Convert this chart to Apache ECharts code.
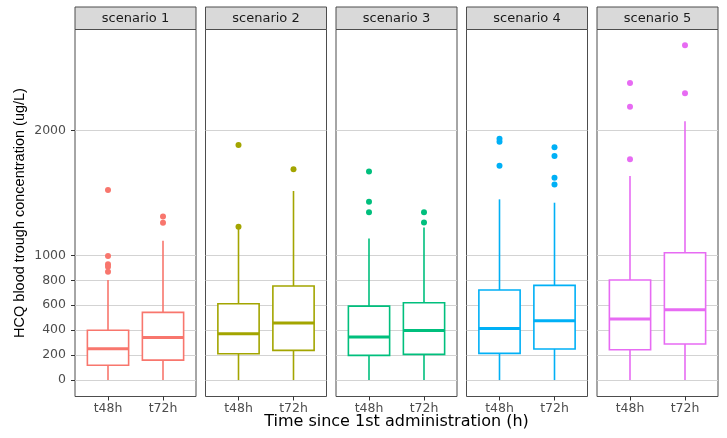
<!DOCTYPE html>
<html><head><meta charset="utf-8">
<script src="https://cdn.jsdelivr.net/npm/echarts@6/dist/echarts.min.js"></script>
<style>html,body{margin:0;padding:0;background:#fff}#c{width:727px;height:438px}</style>
</head><body><div id="c"></div>
<script>
const scenarios = ['scenario 1', 'scenario 2', 'scenario 3', 'scenario 4', 'scenario 5'];
const timeLabels = ['t48h', 't72h'];
const colors = ['#F8766D', '#A3A500', '#00BF7D', '#00B0F6', '#E76BF3'];
const yTicks = [0, 200, 400, 600, 800, 1000, 2000];
// [lower whisker, Q1, median, Q3, upper whisker]
const box48 = [
  [0, 118, 251, 399, 802],
  [0, 211, 371, 612, 1215],
  [0, 198, 345, 593, 1136],
  [0, 214, 414, 722, 1449],
  [0, 243, 489, 802, 1636]
];
const box72 = [
  [0, 160, 342, 543, 1117],
  [0, 238, 457, 754, 1516],
  [0, 206, 398, 620, 1224],
  [0, 249, 476, 759, 1422],
  [0, 289, 564, 1021, 2075]
];
const out48 = [
  [1524, 994, 928, 909, 868],
  [1885, 1230],
  [1673, 1430, 1345],
  [1935, 1911, 1719],
  [2382, 2192, 1770]
];
const out72 = [
  [1312, 1262],
  [1690],
  [1345, 1264],
  [1866, 1796, 1622, 1569],
  [2684, 2299]
];

const chart = echarts.init(document.getElementById('c'), null, {renderer: 'canvas'});
const panelLeft = 75, panelStep = 130.5, panelW = 121, panelTop = 29.5, panelH = 367;
const stripTop = 7;
const yMin = -132, yMax = 2811;
const tickFont = '"DejaVu Sans"';

const grids = [], xAxes = [], yAxes = [], series = [], graphics = [];
scenarios.forEach(function (name, i) {
  const L = panelLeft + i * panelStep;
  grids.push({left: L, top: panelTop, width: panelW, height: panelH, show: true,
    borderColor: '#4D4D4D', borderWidth: 1, backgroundColor: '#fff', outerBoundsMode: 'none'});
  xAxes.push({gridIndex: i, type: 'value', min: 0.4, max: 2.6, position: 'bottom',
    axisLine: {show: false, onZero: false},
    splitLine: {show: false},
    axisTick: {show: true, customValues: [1, 2], length: 4, lineStyle: {color: '#333'}},
    axisLabel: {show: true, customValues: [1, 2], margin: 6, color: '#4D4D4D', fontSize: 12.5, fontFamily: tickFont,
      formatter: function (v) { return timeLabels[Math.round(v) - 1]; }}
  });
  yAxes.push({gridIndex: i, type: 'value', min: yMin, max: yMax, position: 'left',
    axisLine: {show: false, onZero: false},
    splitLine: {show: true, lineStyle: {color: '#D3D3D3', width: 1}},
    axisTick: {show: i === 0, customValues: yTicks, length: 4, lineStyle: {color: '#333'}},
    axisLabel: {show: i === 0, customValues: yTicks, margin: 9, color: '#4D4D4D', fontSize: 12.5, fontFamily: tickFont,
      formatter: function (v) { return String(Math.round(v)); }}
  });
  const col = colors[i];
  series.push({
    type: 'custom', xAxisIndex: i, yAxisIndex: i,
    encode: {x: 0, y: [1, 2, 3, 4, 5]},
    data: [[1].concat(box48[i]), [2].concat(box72[i])],
    renderItem: function (params, api) {
      const x = api.value(0);
      const lo = api.coord([x, api.value(1)]);
      const q1 = api.coord([x, api.value(2)]);
      const md = api.coord([x, api.value(3)]);
      const q3 = api.coord([x, api.value(4)]);
      const hi = api.coord([x, api.value(5)]);
      const hw = api.size([0.75, 0])[0] / 2;
      const cx = lo[0];
      const st = {stroke: col, lineWidth: 1.6, fill: null, lineCap: 'butt'};
      return {type: 'group', children: [
        {type: 'line', shape: {x1: cx, y1: lo[1], x2: cx, y2: q1[1]}, style: st},
        {type: 'line', shape: {x1: cx, y1: q3[1], x2: cx, y2: hi[1]}, style: st},
        {type: 'rect', shape: {x: cx - hw, y: q3[1], width: 2 * hw, height: q1[1] - q3[1]}, style: {stroke: col, lineWidth: 1.6, fill: '#fff'}},
        {type: 'line', shape: {x1: cx - hw, y1: md[1], x2: cx + hw, y2: md[1]}, style: {stroke: col, lineWidth: 3}}
      ]};
    },
    z: 3
  });
  const pts = [];
  out48[i].forEach(function (v) { pts.push([1, v]); });
  out72[i].forEach(function (v) { pts.push([2, v]); });
  series.push({type: 'scatter', xAxisIndex: i, yAxisIndex: i, data: pts,
    symbol: 'circle', symbolSize: 6, itemStyle: {color: col, opacity: 1}, z: 4, silent: true});
  graphics.push({type: 'rect', shape: {x: L, y: stripTop, width: panelW, height: panelTop - stripTop},
    style: {fill: '#D9D9D9', stroke: '#4D4D4D', lineWidth: 1}});
  graphics.push({type: 'text', x: L + panelW / 2, y: (stripTop + panelTop) / 2 + 0.5,
    style: {text: name, align: 'center', verticalAlign: 'middle', fontSize: 13, fontFamily: tickFont, fill: '#1A1A1A'}});
});
graphics.push({type: 'text', x: 20, y: panelTop + panelH / 2, rotation: Math.PI / 2,
  style: {text: 'HCQ blood trough concentration (ug/L)', align: 'center', verticalAlign: 'middle', fontSize: 14.5, fontFamily: '"Liberation Sans"', fill: '#000'}});
graphics.push({type: 'text', x: panelLeft + (4 * panelStep + panelW) / 2, y: 422,
  style: {text: 'Time since 1st administration (h)', align: 'center', verticalAlign: 'middle', fontSize: 16, fontFamily: tickFont, fill: '#000'}});

chart.setOption({
  animation: false,
  backgroundColor: '#fff',
  grid: grids, xAxis: xAxes, yAxis: yAxes, series: series, graphic: graphics
});
</script></body></html>
